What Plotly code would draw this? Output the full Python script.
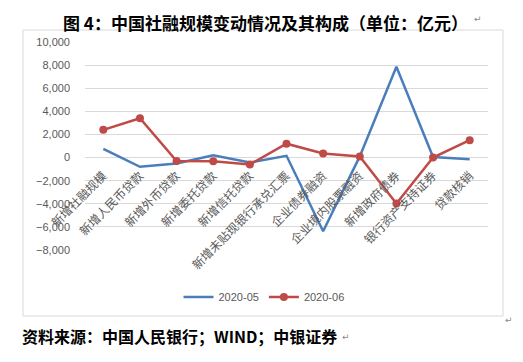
import plotly.graph_objects as go

categories = ["新增社融规模", "新增人民币贷款", "新增外币贷款", "新增委托贷款", "新增信托贷款",
              "新增未贴现银行承兑汇票", "企业债券融资", "企业境内股票融资", "新增政府债券",
              "银行资产支持证券", "贷款核销"]
may_2020 = [750, -800, -520, 200, -430, 150, -6380, 100, 7850, 50, -150]
jun_2020 = [2400, 3400, -300, -330, -600, 1200, 350, 100, -3970, 0, 1500]
y_ticks = [-8000, -6000, -4000, -2000, 0, 2000, 4000, 6000, 8000, 10000]

OFF = 8  # page body margin of the html page
W, H = 523 - OFF, 362 - OFF
L, R, T, B = 85 - OFF, 488 - OFF, 42 - OFF, 250 - OFF

def px(x):
    return (x - OFF - L) / (R - L)

def py(y):
    return (B - (y - OFF)) / (B - T)

fig = go.Figure()
fig.add_trace(go.Scatter(x=categories, y=may_2020, name="2020-05", mode="lines",
                         line=dict(color="#4A7EBB", width=2.5)))
fig.add_trace(go.Scatter(x=categories, y=jun_2020, name="2020-06", mode="lines+markers",
                         line=dict(color="#BE4B48", width=2.5),
                         marker=dict(color="#BE4B48", size=8)))

fig.update_layout(
    width=W, height=H,
    margin=dict(l=L, r=W - R, t=T, b=H - B, pad=0),
    paper_bgcolor="white", plot_bgcolor="white",
    font=dict(family="Liberation Sans, Arial", size=11, color="#595959"),
    showlegend=True,
    legend=dict(orientation="h", x=px(264), y=py(297), xanchor="center", yanchor="middle",
                font=dict(size=11, color="#595959"), bgcolor="rgba(0,0,0,0)",
                itemwidth=30, tracegroupgap=0),
    xaxis=dict(type="category", range=[-0.5, len(categories) - 0.5],
               anchor="free", position=8000 / 18000, tickangle=-45,
               showgrid=False, showline=False, ticks="", zeroline=False,
               ticklabelstandoff=8, automargin=False,
               tickfont=dict(family="Noto Sans CJK SC", size=12, color="#595959")),
    yaxis=dict(range=[-8000, 10000], tickvals=y_ticks, tickformat=",",
               showgrid=True, gridcolor="#D9D9D9", gridwidth=1,
               zeroline=True, zerolinecolor="#D9D9D9", zerolinewidth=1,
               showline=False, ticks="", ticklabelstandoff=14, automargin=False,
               tickfont=dict(family="Liberation Sans, Arial", size=11, color="#595959")),
)

# chart frame
fig.add_shape(type="rect", xref="paper", yref="paper",
              x0=px(23), x1=px(503), y0=py(316), y1=py(30),
              line=dict(color="#D9D9D9", width=1), layer="below")

# title
fig.add_annotation(xref="paper", yref="paper", x=px(61), y=py(8), xanchor="left", yanchor="top",
                   text="<b>图 4：中国社融规模变动情况及其构成（单位：亿元）</b>",
                   showarrow=False, font=dict(family="Noto Sans CJK SC", size=17, color="black"))
fig.add_annotation(xref="paper", yref="paper", x=px(472), y=py(19), xanchor="left", yanchor="middle",
                   text="↵", showarrow=False, font=dict(family="DejaVu Sans", size=9, color="#888888"))

# footer
fig.add_annotation(xref="paper", yref="paper", x=px(20), y=py(336), xanchor="left", yanchor="middle",
                   text="<b>资料来源：中国人民银行；WIND；中银证券</b>",
                   showarrow=False, font=dict(family="Noto Sans CJK SC", size=16, color="black"))
fig.add_annotation(xref="paper", yref="paper", x=px(340), y=py(337), xanchor="left", yanchor="middle",
                   text="↵", showarrow=False, font=dict(family="DejaVu Sans", size=9, color="#888888"))
fig.add_annotation(xref="paper", yref="paper", x=px(503), y=py(320), xanchor="left", yanchor="middle",
                   text="↵", showarrow=False, font=dict(family="DejaVu Sans", size=9, color="#888888"))

fig.write_html("out.html")
